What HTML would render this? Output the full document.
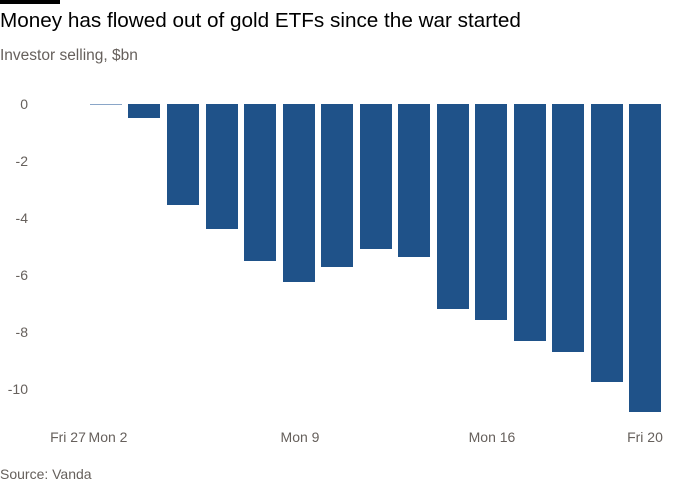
<!DOCTYPE html>
<html><head><style>
body{margin:0;width:700px;height:500px;background:#fff;font-family:"Liberation Sans",sans-serif;position:relative;overflow:hidden}
.t{position:absolute;left:0;top:9px;font-size:20.7px;color:#000}
.s{position:absolute;left:0;top:47px;font-size:15.5px;color:#66605c}
.src{position:absolute;left:0;top:466px;font-size:14px;color:#66605c}
</style></head><body>
<div style="position:absolute;left:0;top:0;width:60px;height:4px;background:#000"></div>
<div class="t">Money has flowed out of gold ETFs since the war started</div>
<div class="s">Investor selling, $bn</div>
<svg width="700" height="500" style="position:absolute;left:0;top:0" font-family="Liberation Sans, sans-serif" font-size="14" fill="#66605c">
<g text-anchor="end">
<text x="28" y="109">0</text>
<text x="28" y="166">-2</text>
<text x="28" y="223">-4</text>
<text x="28" y="280">-6</text>
<text x="28" y="337">-8</text>
<text x="28" y="394">-10</text>
</g>
<g fill="#1f5289">
<rect x="90" y="104" width="32" height="1" fill="#8aa6c8"/>
<rect x="128" y="104" width="32" height="14"/>
<rect x="167" y="104" width="32" height="101"/>
<rect x="206" y="104" width="32" height="125"/>
<rect x="244" y="104" width="32" height="157"/>
<rect x="283" y="104" width="32" height="178"/>
<rect x="321" y="104" width="32" height="163"/>
<rect x="360" y="104" width="32" height="145"/>
<rect x="398" y="104" width="32" height="153"/>
<rect x="437" y="104" width="32" height="205"/>
<rect x="475" y="104" width="32" height="216"/>
<rect x="514" y="104" width="32" height="237"/>
<rect x="552" y="104" width="32" height="248"/>
<rect x="591" y="104" width="32" height="278"/>
<rect x="629" y="104" width="32" height="308"/>
</g>
<g text-anchor="middle">
<text x="68" y="442">Fri 27</text>
<text x="108" y="442">Mon 2</text>
<text x="300" y="442">Mon 9</text>
<text x="492" y="442">Mon 16</text>
<text x="645" y="442">Fri 20</text>
</g>
</svg>
<div class="src">Source: Vanda</div>
</body></html>
